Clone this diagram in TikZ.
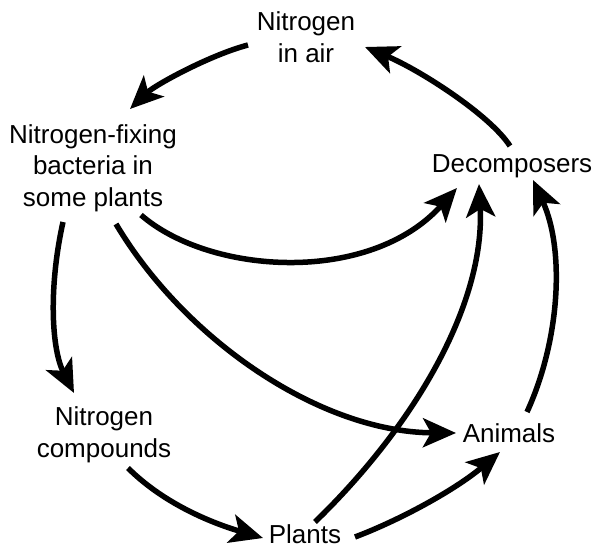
\documentclass[tikz,border=0pt]{standalone}
\usepackage{fontspec}
\setmainfont{Liberation Sans}
\usetikzlibrary{arrows.meta,calc}
\begin{document}
\begin{tikzpicture}[x=1pt,y=-1pt,
  lbl/.style={inner sep=0pt,align=center,font=\fontsize{26}{31.5}\selectfont},
  flow/.style={line width=5.5pt,-{Stealth[length=33pt,width=29pt,inset=8pt]}}]
\useasboundingbox (0,0) rectangle (598,548);
\node[lbl] (air) at (306,37) {Nitrogen\\in air};
\node[lbl] (bact) at (93,168) {Nitrogen-fixing\\bacteria in\\some plants};
\node[lbl] (dec) at (512,166) {Decomposers};
\node[lbl] (comp) at (104,435) {Nitrogen\\compounds};
\node[lbl] (anim) at (509,433) {Animals};
\node[lbl] (plants) at (305,534) {Plants};
% air -> bacteria
\draw[flow] ($(air)+(-58,8)$) .. controls ($(air)+(-96,18)$) and ($(bact)+(62,-83)$) .. ($(bact)+(37,-59)$);
% decomposers -> air
\draw[flow] ($(dec)+(-2,-20)$) .. controls ($(dec)+(-22,-51)$) and ($(air)+(114,33)$) .. ($(air)+(59,10)$);
% bacteria -> decomposers
\draw[flow] ($(bact)+(48,47)$) .. controls ($(bact)+(117,107)$) and ($(dec)+(-142,119)$) .. ($(dec)+(-55,22)$);
% bacteria -> animals
\draw[flow] ($(bact)+(23,56)$) .. controls ($(bact)+(92,172)$) and ($(anim)+(-189,-1)$) .. ($(anim)+(-53,0)$);
% bacteria -> compounds
\draw[flow] ($(bact)+(-30,54)$) .. controls ($(bact)+(-45,122)$) and ($(comp)+(-52,-85)$) .. ($(comp)+(-30,-42)$);
% compounds -> plants
\draw[flow] ($(comp)+(24,33)$) .. controls ($(comp)+(61,70)$) and ($(plants)+(-90,-10)$) .. ($(plants)+(-42,4)$);
% plants -> decomposers
\draw[flow] ($(plants)+(10,-12)$) .. controls ($(plants)+(115,-114)$) and ($(dec)+(-27,134)$) .. ($(dec)+(-33,18)$);
% plants -> animals
\draw[flow] ($(plants)+(50,3)$) .. controls ($(plants)+(95,-14)$) and ($(anim)+(-54,57)$) .. ($(anim)+(-9,19)$);
% animals -> decomposers
\draw[flow] ($(anim)+(18,-21)$) .. controls ($(anim)+(51,-93)$) and ($(dec)+(53,84)$) .. ($(dec)+(21,14)$);
\end{tikzpicture}
\end{document}
